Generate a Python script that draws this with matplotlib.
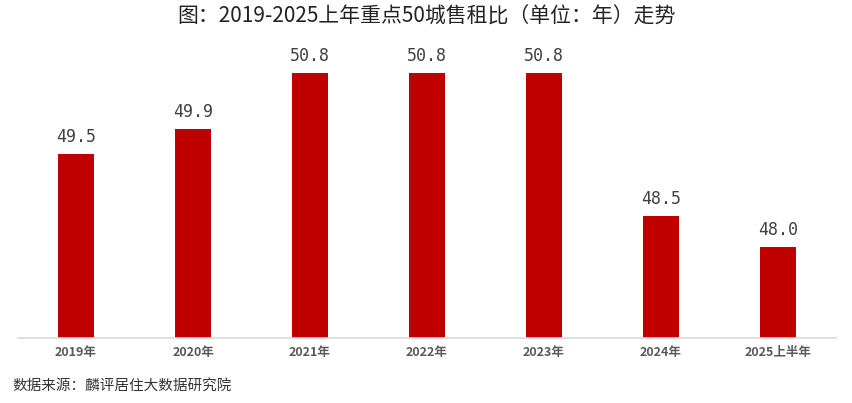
import matplotlib
matplotlib.use("Agg")
import matplotlib.pyplot as plt

plt.rcParams["font.family"] = ["Noto Sans CJK SC", "DejaVu Sans"]

# data
years = ["2019年", "2020年", "2021年", "2022年", "2023年", "2024年", "2025上半年"]
ratio = [49.5, 49.9, 50.8, 50.8, 50.8, 48.5, 48.0]

TITLE = "图：2019-2025上年重点50城售租比（单位：年）走势"
SOURCE = "数据来源：麟评居住大数据研究院"
BAR_COLOR = "#C00000"

W, H = 853, 403
fig = plt.figure(figsize=(W / 100, H / 100), dpi=100)
ax = fig.add_axes([17.5 / W, (H - 338) / H, 819 / W, 293 / H])

x = range(len(years))
ax.bar(x, ratio, width=0.31, color=BAR_COLOR, zorder=2)
for xi, v in zip(x, ratio):
    ax.text(xi, v + 0.12, f"{v:.1f}", ha="center", va="bottom",
            fontsize=12, color="#404040", family="DejaVu Sans Mono")

ax.set_xlim(-0.5, len(years) - 0.5)
ax.set_ylim(46.53, 51.25)
ax.set_xticks(list(x))
ax.set_xticklabels(years, fontsize=9, color="#595959", fontweight="bold")
ax.tick_params(axis="x", length=0, pad=6)
ax.set_yticks([])
for s in ("top", "right", "left"):
    ax.spines[s].set_visible(False)
ax.spines["bottom"].set_color("#D9D9D9")
ax.spines["bottom"].set_linewidth(1.2)

fig.text(0.5, 1 - 17 / H, TITLE, ha="center", va="center", fontsize=15, color="#222222")
fig.text(12 / W, 1 - 386 / H, SOURCE, ha="left", va="center", fontsize=10.5, color="#333333")

fig.savefig("out.png", dpi=100)
